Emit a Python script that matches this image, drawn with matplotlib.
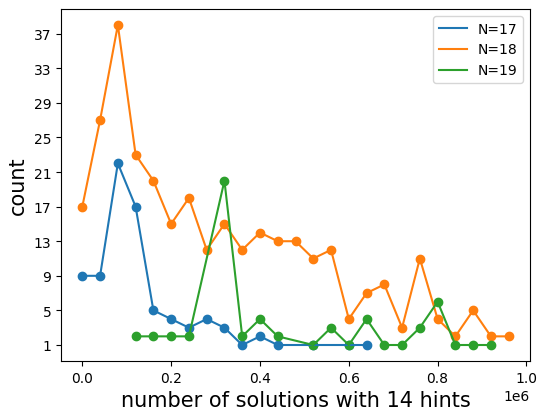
import matplotlib
matplotlib.use("Agg")
import matplotlib.pyplot as plt

x17 = [0, 40000, 80000, 120000, 160000, 200000, 240000, 280000, 320000, 360000, 400000, 440000, 520000, 600000, 640000]
y17 = [9, 9, 22, 17, 5, 4, 3, 4, 3, 1, 2, 1, 1, 1, 1]

x18 = [0, 40000, 80000, 120000, 160000, 200000, 240000, 280000, 320000, 360000, 400000, 440000, 480000,
       520000, 560000, 600000, 640000, 680000, 720000, 760000, 800000, 840000, 880000, 920000, 960000]
y18 = [17, 27, 38, 23, 20, 15, 18, 12, 15, 12, 14, 13, 13, 11, 12, 4, 7, 8, 3, 11, 4, 2, 5, 2, 2]

x19 = [120000, 160000, 200000, 240000, 320000, 360000, 400000, 440000, 520000, 560000, 600000,
       640000, 680000, 720000, 760000, 800000, 840000, 880000, 920000]
y19 = [2, 2, 2, 2, 20, 2, 4, 2, 1, 3, 1, 4, 1, 1, 3, 6, 1, 1, 1]

labels = ["N=17", "N=18", "N=19"]
yticks = list(range(1, 38, 4))

fig = plt.figure(figsize=(5.38, 4.10), dpi=100)
ax = fig.add_axes([61/538, 1 - 362/410, (530 - 61)/538, (362 - 10)/410])

for (xs, ys, lab, c) in [(x17, y17, labels[0], "C0"), (x18, y18, labels[1], "C1"), (x19, y19, labels[2], "C2")]:
    ax.plot(xs, ys, color=c, label=lab)
    ax.scatter(xs, ys, color=c)

ax.set_yticks(yticks)
ax.set_xlabel("number of solutions with 14 hints", fontsize=15)
ax.set_ylabel("count", fontsize=15)
ax.legend(loc="upper right")

fig.savefig("out.png", dpi=100)
